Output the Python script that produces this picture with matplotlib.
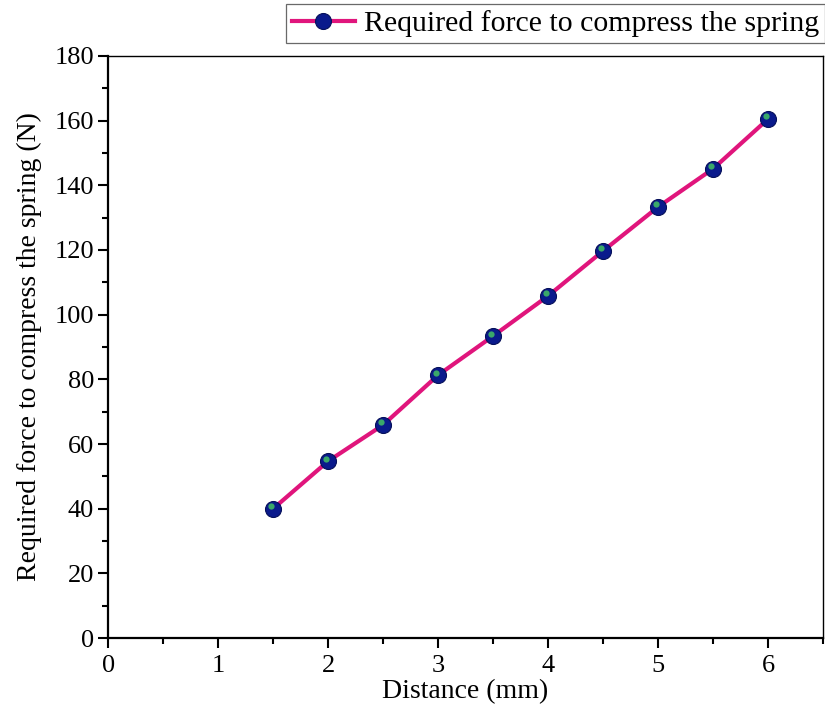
import matplotlib
matplotlib.use('Agg')
from matplotlib import pyplot as plt
from matplotlib import transforms
from matplotlib.lines import Line2D
from matplotlib.ticker import MultipleLocator

# distance (mm) vs. force needed to compress the spring (N)
distance = [1.5, 2.0, 2.5, 3.0, 3.5, 4.0, 4.5, 5.0, 5.5, 6.0]
force = [40.0, 54.7, 65.9, 81.3, 93.4, 105.8, 119.7, 133.3, 145.1, 160.5]
series_label = 'Required force to compress the spring'

plt.rcParams['font.family'] = ['Liberation Serif', 'DejaVu Serif']

fig = plt.figure(figsize=(8.25, 7.17), dpi=100)
ax = fig.add_axes([0.131, 0.110, 0.8666, 0.812])

line_color = '#e0157c'
ball = dict(marker='o', markersize=11.5, markerfacecolor='#0a1a8c',
            markeredgecolor='#06105a', markeredgewidth=0.8)
ax.plot(distance, force, color=line_color, linewidth=3.0, zorder=2)
ax.plot(distance, force, linestyle='none', zorder=3, **ball)
# small green highlight so markers look like shaded balls
shine = transforms.offset_copy(ax.transData, fig=fig, x=-1.8, y=1.8, units='points')
ax.plot(distance, force, linestyle='none', marker='o', markersize=4.5,
        markerfacecolor='#3aa86a', markeredgecolor='none', transform=shine, zorder=4)

ax.set_xlim(0, 6.5)
ax.set_ylim(0, 180)
ax.xaxis.set_major_locator(MultipleLocator(1))
ax.xaxis.set_minor_locator(MultipleLocator(0.5))
ax.yaxis.set_major_locator(MultipleLocator(20))
ax.yaxis.set_minor_locator(MultipleLocator(10))
ax.set_xticks([0, 1, 2, 3, 4, 5, 6])

ax.tick_params(which='major', direction='out', length=7, width=1.5, labelsize=19, pad=3)
ax.tick_params(axis='x', which='major', pad=5)
ax.tick_params(which='minor', direction='out', length=4, width=1.5)
ax.tick_params(top=False, right=False)
for side in ['left', 'bottom']:
    ax.spines[side].set_linewidth(1.6)
for side in ['top', 'right']:
    ax.spines[side].set_linewidth(1.0)

ax.set_xlabel('Distance (mm)', fontsize=20, labelpad=2)
ax.set_ylabel('Required force to compress the spring (N)', fontsize=20, labelpad=9)

handle = Line2D([], [], color=line_color, linewidth=3.0, **ball)
leg = fig.legend([handle], [series_label], loc='upper right', bbox_to_anchor=(1.0, 0.994),
                 fontsize=21.5, frameon=True, fancybox=False, edgecolor='#444444',
                 handlelength=2.1, handletextpad=0.3, borderpad=0.2, borderaxespad=0)
leg.get_frame().set_linewidth(0.9)

fig.savefig('out.png', dpi=100)
